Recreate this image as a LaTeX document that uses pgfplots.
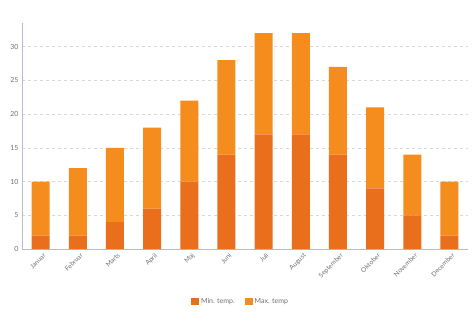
\documentclass[border=0pt]{standalone}
\usepackage{pgfplots}
\pgfplotsset{compat=1.18}
\usepackage{fontspec}
\setmainfont{Lato}
\definecolor{minc}{HTML}{EA6F1D}
\definecolor{maxc}{HTML}{F58D1E}
\definecolor{txt}{HTML}{707070}
\definecolor{gridc}{HTML}{D8D8D8}
\definecolor{axc}{HTML}{B8BCC8}
\begin{document}
\begin{tikzpicture}
\begin{axis}[
  name=ax,
  scale only axis, width=446pt, height=226pt,
  ybar stacked, bar width=18pt,
  xmin=-0.5, xmax=11.5, ymin=0, ymax=33.5,
  xtick={0,...,11},
  xticklabels={Januar,Februar,Marts,April,Maj,Juni,Juli,August,September,Oktober,November,December},
  x tick label style={rotate=45, anchor=north east, font=\fontsize{6.5}{7}\selectfont, text=txt, inner sep=1pt, yshift=-3pt},
  ytick={0,5,...,30},
  y tick label style={font=\fontsize{7}{8}\selectfont, text=txt},
  /pgf/number format/assume math mode=true,
  major tick length=0pt,
  ymajorgrids, grid style={gridc, dashed, line width=0.5pt},
  axis x line*=bottom, axis y line*=left,
  x axis line style={axc, line width=0.7pt, -},
  y axis line style={axc, line width=0.7pt, -},
  legend style={at={(0.49,-0.2)}, anchor=north, draw=none, legend columns=2,
    font=\fontsize{7}{8}\selectfont, text=txt,
    /tikz/every even column/.append style={column sep=8pt}},
  legend image code/.code={\fill[#1] (0pt,-3.5pt) rectangle (8pt,4pt);},
]
\addplot[fill=minc, draw=none] coordinates {(0,2) (1,2) (2,4) (3,6) (4,10) (5,14) (6,17) (7,17) (8,14) (9,9) (10,5) (11,2)};
\addplot[fill=maxc, draw=none] coordinates {(0,8) (1,10) (2,11) (3,12) (4,12) (5,14) (6,15) (7,15) (8,13) (9,12) (10,9) (11,8)};
\legend{Min. temp., Max. temp}
\end{axis}
\pgfresetboundingbox
\useasboundingbox ([xshift=-22pt,yshift=-75pt]ax.south west) rectangle ([xshift=5pt,yshift=23pt]ax.north east);
\end{tikzpicture}
\end{document}
